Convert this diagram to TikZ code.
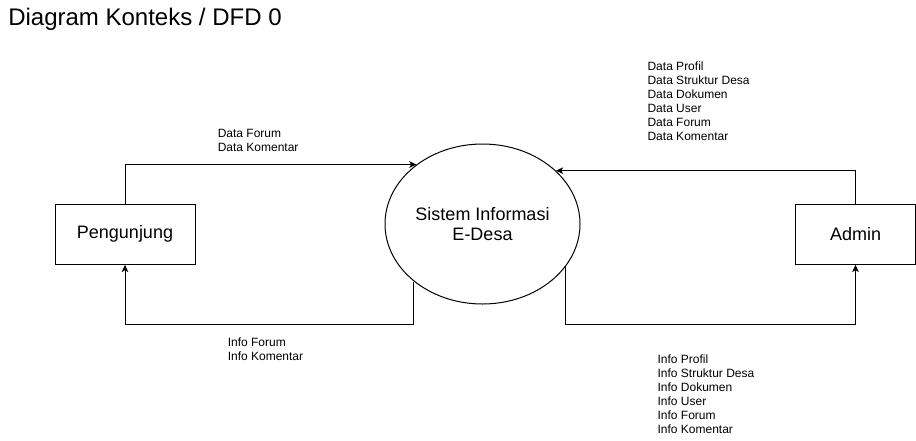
\documentclass[tikz,border=0pt]{standalone}
\usepackage{fontspec}
\setmainfont{Liberation Sans}
\usetikzlibrary{shapes.geometric,arrows.meta}
\tikzset{
	entity/.style={draw, line width=0.75pt, rectangle, minimum width=105pt, minimum height=45pt, inner sep=0pt, font=\fontsize{13.5}{16}\selectfont},
	process/.style={draw, line width=0.75pt, ellipse, minimum width=146.25pt, minimum height=120pt, inner sep=0pt, align=center, font=\fontsize{13.5}{15.5}\selectfont},
	flow/.style={line width=0.75pt, -{Stealth[length=5.5pt,width=5pt,inset=1.5pt]}},
	flowlabel/.style={anchor=north west, inner sep=0pt, align=left, font=\fontsize{9}{10.5}\selectfont}
}

\begin{document}
\begin{tikzpicture}[x=0.75pt, y=-0.75pt]
		%%%%% START %%%%%
		\useasboundingbox (0, 0) rectangle (916, 440);
		
		\node[anchor=north west, inner sep=0pt, font=\fontsize{18}{21}\selectfont] (title) at (8, 7.5) {Diagram Konteks / DFD 0};
		
		\node[entity] (peng) at (125, 234.3) {Pengunjung};
		\node[entity, minimum width=90pt] (adm) at (855.5, 234.3) {Admin};
		\node[process] (sys) at (482.5, 224) {Sistem Informasi\\E-Desa};
		
		\coordinate (lowrun) at (0, 324);
		
		\draw[flow] (peng.north) |- (sys.138);
		\draw[flow] (sys.220) -- (sys.220 |- lowrun) -| (peng.south);
		\draw[flow] (adm.north) |- (sys.36);
		\draw[flow] (sys.333) -- (sys.333 |- lowrun) -| (adm.south);
		
		\node[flowlabel] (pengdata) at (217.5, 128.5) {Data Forum\\Data Komentar};
		\node[flowlabel] (penginfo) at (227.5, 337.5) {Info Forum\\Info Komentar};
		\node[flowlabel] (admdata) at (647.3, 61.5) {Data Profil\\Data Struktur Desa\\Data Dokumen\\Data User\\Data Forum\\Data Komentar};
		\node[flowlabel] (adminfo) at (657.3, 354.7) {Info Profil\\Info Struktur Desa\\Info Dokumen\\Info User\\Info Forum\\Info Komentar};
		
		%%%%% END %%%%%
\end{tikzpicture}
\end{document}
